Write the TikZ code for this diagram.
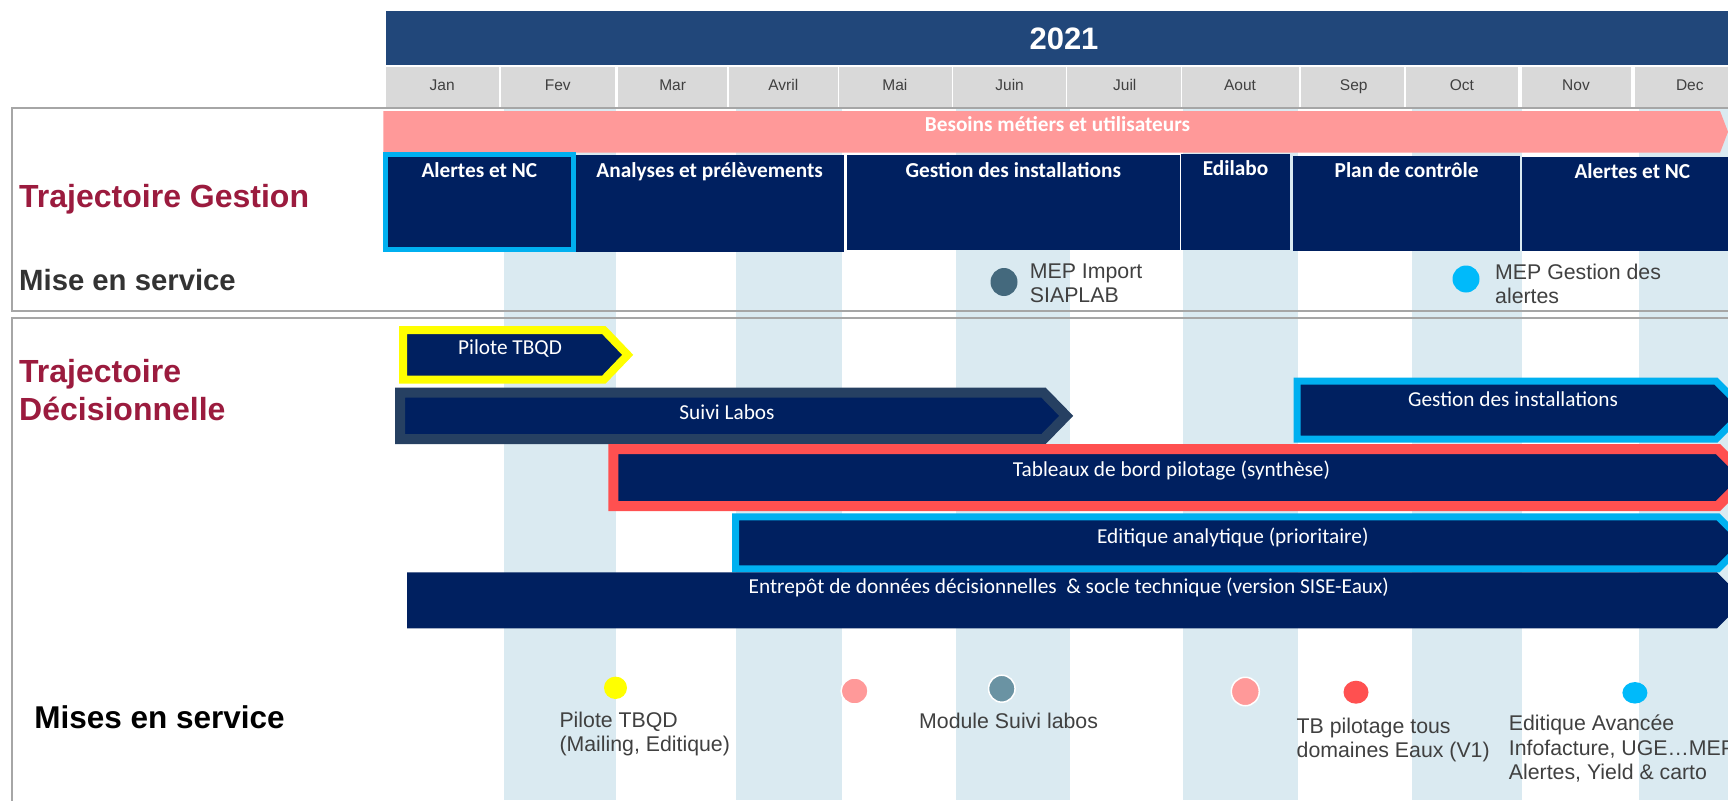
\documentclass[tikz,border=0pt]{standalone}
\usepackage{fontspec}
\setmainfont{Liberation Sans}
\newfontfamily\calf{Carlito}
\usetikzlibrary{shapes.geometric}
\definecolor{navy}{RGB}{0,32,96}
\definecolor{hdr}{RGB}{33,71,122}
\definecolor{mongray}{RGB}{217,217,217}
\definecolor{stripe}{RGB}{218,234,241}
\definecolor{pinkb}{RGB}{255,153,153}
\definecolor{cyanb}{RGB}{0,176,240}
\definecolor{cyand}{RGB}{0,186,250}
\definecolor{redb}{RGB}{255,80,80}
\definecolor{slate}{RGB}{38,64,98}
\definecolor{crim}{RGB}{155,27,62}
\definecolor{txtg}{RGB}{64,64,64}
\definecolor{darkg}{RGB}{51,51,51}
\definecolor{teala}{RGB}{68,105,125}
\definecolor{tealb}{RGB}{106,147,163}
\definecolor{boxg}{RGB}{166,166,166}
\definecolor{yel}{RGB}{255,255,0}
\begin{document}
\begin{tikzpicture}[x=1pt,y=-1pt,
  lbl/.style={inner sep=0pt, text depth=0pt},
  bartxt/.style={lbl, text height=14.5pt, text=white, font=\calf\fontsize{21.3}{24}\selectfont},
  blktxt/.style={lbl, text height=14.5pt, text=white, font=\calf\bfseries\fontsize{21.3}{24}\selectfont},
  montxt/.style={lbl, text height=11.1pt, text=txtg, font=\fontsize{15.5}{18}\selectfont},
  meptxt/.style={inner sep=0pt, anchor=north west, align=left, text=txtg, font=\fontsize{21.3}{24}\selectfont},
  ttl/.style={inner sep=0pt, anchor=base west, text=crim, font=\bfseries\fontsize{32}{37.5}\selectfont},
  boxline/.style={draw=boxg, line width=1.8pt},
  arrowbar/.style={fill=navy, line join=miter, miter limit=10},
  dot/.style={ellipse, inner sep=0pt},
]
\useasboundingbox (0,0) rectangle (1728,800);
\clip (0,0) rectangle (1728,800);
\fill[white] (0,0) rectangle (1728,800);

% month stripes
\foreach \a/\b in {504/616, 736/842, 956/1069.5, 1182.5/1297.5, 1412/1522, 1638.6/1740}
  \fill[stripe] (\a,108) rectangle (\b,800);

% header
\fill[hdr] (385.5,11) rectangle (1740,65);
\node[lbl, text height=22.2pt, text=white, font=\bfseries\fontsize{31}{36}\selectfont] (year) at (1064,38) {2021};
\foreach \a/\b/\c/\t/\n in {385.5/499.4/442.2/Jan/1, 500.7/614.5/557.8/Fev/2, 617.7/727/672.6/Mar/3,
  728.8/837.7/783.3/Avril/4, 838.6/951.6/894.9/Mai/5, 953/1065.6/1009.6/Juin/6,
  1067.4/1180.5/1124.8/Juil/7, 1182/1299/1240/Aout/8, 1300.7/1404/1353.7/Sep/9,
  1406/1518/1461.8/Oct/10, 1521.5/1631/1576/Nov/11, 1634.6/1740/1689.8/Dec/12}
{
  \fill[mongray] (\a,67) rectangle (\b,108);
  \node[montxt] (m\n) at (\c,85) {\t};
}

% section boxes
\draw[boxline] (1740,108.3) -- (11.7,108.3) -- (11.7,311) -- (1740,311);
\draw[boxline] (1740,317.7) -- (11.7,317.7) -- (11.7,810);

% besoins bar
\fill[pinkb] (383.3,111) -- (1720,111) -- (1728,131.8) -- (1720,152.7) -- (383.3,152.7) -- cycle;
\node[blktxt] (besoins) at (1057.5,124.3) {Besoins métiers et utilisateurs};

% gestion blocks
\draw[draw=cyanb, line width=5pt, fill=navy] (385,154.5) rectangle (573.2,249.8);
\fill[navy] (575.7,155) rectangle (844.4,251.7);
\fill[navy] (847,155) rectangle (1179.6,249.5);
\fill[navy] (1181.4,153.5) rectangle (1290.4,250);
\fill[navy] (1293,156) rectangle (1519.7,251);
\fill[navy] (1522,157) rectangle (1745,251);
\node[blktxt] (g1) at (479.4,170) {Alertes et NC};
\node[blktxt] (g2) at (709.7,170) {Analyses et prélèvements};
\node[blktxt] (g3) at (1013.3,170) {Gestion des installations};
\node[blktxt] (g4) at (1235.5,168.5) {Edilabo};
\node[blktxt] (g5) at (1406.6,170.7) {Plan de contrôle};
\node[blktxt] (g6) at (1632.4,171.5) {Alertes et NC};

% gestion mise en service
\node[dot, fill=teala, minimum width=27pt, minimum height=28pt] (dimp) at (1004,282) {};
\node[meptxt] (timp) at (1029.7,264.1) {MEP Import\\SIAPLAB};
\node[dot, fill=cyand, minimum width=27pt, minimum height=27pt] (dale) at (1466,279) {};
\node[meptxt] (tale) at (1495,264.1) {MEP Gestion des\\alertes};

% decisionnelle arrows
\draw[arrowbar, draw=yel, line width=8pt] (403,330) -- (603.8,330) -- (627.7,354.85) -- (603.8,379.7) -- (403,379.7) -- cycle;
\node[bartxt] (apil) at (510,347.7) {Pilote TBQD};
\draw[arrowbar, draw=slate, line width=10pt] (400,392.7) -- (1043.6,392.7) -- (1066.2,415.85) -- (1043.6,439) -- (400,439) -- cycle;
\node[bartxt] (asui) at (727,412.7) {Suivi Labos};
\draw[arrowbar, draw=cyanb, line width=7pt] (1297,381.2) -- (1716,381.2) -- (1745,410.2) -- (1716,439.2) -- (1297,439.2) -- cycle;
\node[bartxt] (agest) at (1513,399.3) {Gestion des installations};
\draw[arrowbar, draw=redb, line width=10pt] (613.3,449) -- (1718,449) -- (1746.5,477.5) -- (1718,506) -- (613.3,506) -- cycle;
\node[bartxt] (atab) at (1171.5,469) {Tableaux de bord pilotage (synthèse)};
\draw[arrowbar, draw=cyanb, line width=7pt] (735.5,516.8) -- (1718,516.8) -- (1744,542.8) -- (1718,568.8) -- (735.5,568.8) -- cycle;
\node[bartxt] (aedi) at (1232.8,536) {Editique analytique (prioritaire)};
\fill[navy] (407,572.3) -- (1717,572.3) -- (1745,600.3) -- (1717,628.3) -- (407,628.3) -- cycle;
\node[bartxt] (aent) at (1068.8,586) {Entrepôt de données décisionnelles~ \& socle technique (version SISE-Eaux)};

% bottom milestones
\node[dot, fill=yel, minimum width=23pt, minimum height=22.4pt] (b1) at (615.5,687.8) {};
\node[dot, fill=pinkb, draw=white, line width=1.5pt, minimum width=27pt, minimum height=26pt] (b2) at (854.6,691) {};
\node[dot, fill=tealb, draw=white, line width=1.5pt, minimum width=26.5pt, minimum height=27pt] (b3) at (1001.8,688.7) {};
\node[dot, fill=pinkb, draw=white, line width=1.5pt, minimum width=28pt, minimum height=28.5pt] (b4) at (1245.3,691.5) {};
\node[dot, fill=redb, minimum width=25pt, minimum height=23pt] (b5) at (1356,692.2) {};
\node[dot, fill=cyand, minimum width=25pt, minimum height=21.5pt] (b6) at (1634.9,692.8) {};
\node[meptxt, font=\fontsize{21.3}{24.3}\selectfont] (t1) at (559.3,711.4) {Pilote TBQD\\(Mailing, Editique)};
\node[meptxt] (t3) at (919,713.1) {Module Suivi labos};
\node[meptxt] (t5) at (1296.5,717.4) {TB pilotage tous\\domaines Eaux (V1)};
\node[meptxt, font=\fontsize{21.3}{24.2}\selectfont] (t6) at (1508.7,715.1) {Editique Avancée\\Infofacture, UGE…MEP\\Alertes, Yield \& carto};

% left labels
\node[ttl] (ltg) at (19,207.7) {Trajectoire Gestion};
\node[inner sep=0pt, anchor=base west, text=darkg, font=\bfseries\fontsize{29.3}{34}\selectfont] (lms) at (19,290) {Mise en service};
\node[ttl, anchor=north west, align=left] (ltd) at (19,359.3) {Trajectoire\\Décisionnelle};
\node[inner sep=0pt, anchor=base west, text=black, font=\bfseries\fontsize{31.5}{36}\selectfont] (lmes) at (34.2,728.3) {Mises en service};
\end{tikzpicture}
\end{document}
